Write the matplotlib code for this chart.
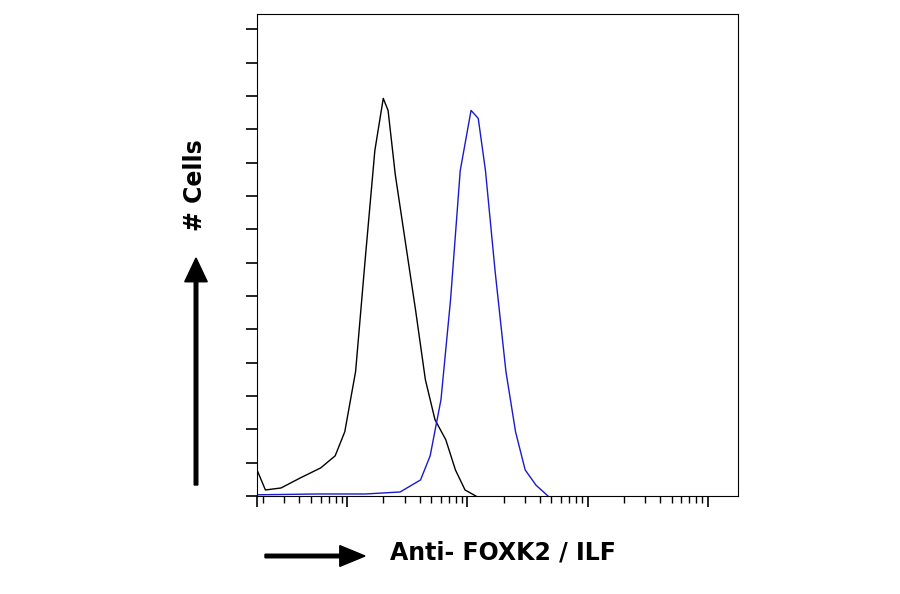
import numpy as np
import matplotlib.pyplot as plt
from matplotlib.patches import FancyArrow

# log10 positions (axis decades from left edge) and cell counts
ctrl_dec = [0.0, 0.07, 0.2, 0.36, 0.53, 0.65, 0.73, 0.82, 0.9, 0.98, 1.05, 1.09,
            1.15, 1.23, 1.32, 1.4, 1.48, 1.57, 1.65, 1.73, 1.82]
ctrl_cnt = [6.5, 1.5, 2, 4.5, 7, 10, 16, 31, 59, 86, 99, 96,
            80, 64, 46, 29, 19, 14, 6.5, 1.5, 0]
foxk_dec = [0.0, 0.5, 0.9, 1.19, 1.36, 1.44, 1.53, 1.61, 1.69, 1.78, 1.84, 1.9,
            1.98, 2.07, 2.15, 2.23, 2.32, 2.42]
foxk_cnt = [0.3, 0.5, 0.5, 1, 4, 10, 24, 49, 81, 96, 94, 81,
            56, 31, 16, 6.5, 2.7, 0]

fig = plt.figure(figsize=(9, 5.94), dpi=100)
ax = fig.add_axes([257/900, 98/594, 481/900, 482/594])

ax.plot(10**np.array(ctrl_dec), ctrl_cnt, color='black', lw=1)
ax.plot(10**np.array(foxk_dec), foxk_cnt, color='#1a1acc', lw=1)

ax.set_xscale('log')
ax.set_xlim(1, 1e4)
off = 10**0.75
majors = [1] + [off * 10**k for k in range(4)]
minors = [off * m * 10**k for k in range(-1, 4) for m in range(2, 10)]
minors = [v for v in minors if 1 < v < 1e4]
ax.set_xticks(majors)
ax.set_xticks(minors, minor=True)
ax.set_xticklabels([])
ax.set_xticklabels([], minor=True)
ax.set_ylim(0, 120)
ax.set_yticks(np.arange(0, 121, 8.3))
ax.set_yticklabels([])
ax.tick_params(direction='out', length=8, width=1.2)
ax.tick_params(which='minor', length=5, width=1)

fig.text(195/900, 1 - 185/594, '# Cells', rotation=90, fontsize=17,
         fontweight='bold', ha='center', va='center')
fig.patches.append(FancyArrow(
    196/900, 1 - 485/594, 0, (485-258)/594, width=0.004, head_width=0.025,
    head_length=0.04, color='black', transform=fig.transFigure, length_includes_head=True))
fig.patches.append(FancyArrow(
    265/900, 1 - 556/594, 100/900, 0, width=0.006, head_width=0.035,
    head_length=0.028, color='black', transform=fig.transFigure, length_includes_head=True))
fig.text(390/900, 1 - 553/594, 'Anti- FOXK2 / ILF', fontsize=17,
         fontweight='bold', ha='left', va='center')

fig.savefig('out.png')
